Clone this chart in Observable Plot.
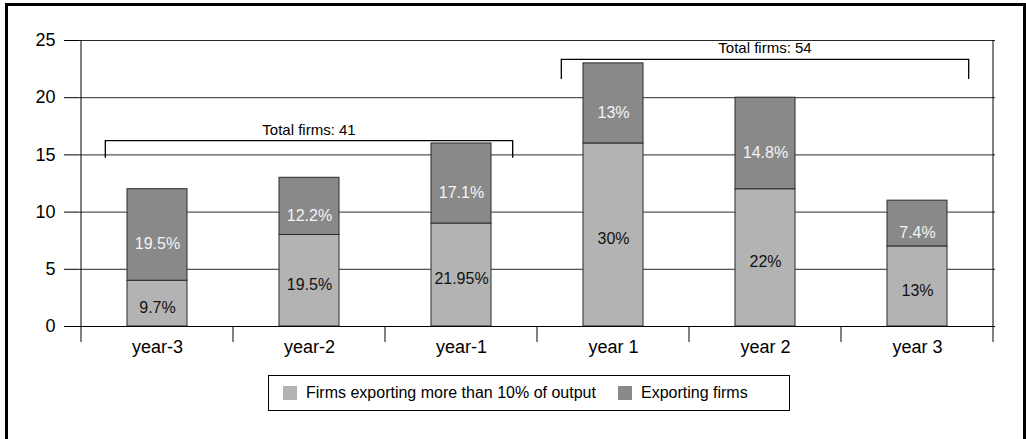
<!DOCTYPE html>
<html><head><meta charset="utf-8">
<script src="https://cdn.jsdelivr.net/npm/d3@7"></script>
<script src="https://cdn.jsdelivr.net/npm/@observablehq/plot@0.6"></script>
<style>
body{margin:0;background:#fff;font-family:"Liberation Sans",Arial,sans-serif}
#wrap{position:relative;width:1026px;height:439px;overflow:hidden;background:#fff}
#frame{position:absolute;left:5px;top:3px;width:1015px;height:470px;border:3px solid #000;pointer-events:none}
#chart{position:absolute;left:0;top:0}
#legend{position:absolute;left:268px;top:375px;width:520px;height:34px;border:1px solid #000;background:#fff;font-size:16px;color:#000}
#legend .it{position:absolute;top:0;height:34px;display:flex;align-items:center}
#legend .sw{width:14px;height:14px;margin-right:9px}
</style></head>
<body>
<div id="wrap"><div id="chart"></div><div id="frame"></div><div id="legend"></div></div>
<script>
const categories = ["year-3","year-2","year-1","year 1","year 2","year 3"];
const seriesNames = ["Firms exporting more than 10% of output","Exporting firms"];
const highValues = [4, 8, 9, 16, 12, 7];
const exportValues = [8, 5, 7, 7, 8, 4];
const highLabels = ["9.7%","19.5%","21.95%","30%","22%","13%"];
const exportLabels = ["19.5%","12.2%","17.1%","13%","14.8%","7.4%"];
const yTicks = [0, 5, 10, 15, 20, 25];
const brackets = [
  {from: "year-3", to: "year-1", label: "Total firms: 41", top: 16.2, foot: 14.7},
  {from: "year 1", to: "year 3", label: "Total firms: 54", top: 23.3, foot: 21.6}
];
const colors = ["#b3b3b3", "#898989"];

const rows = [];
categories.forEach((c, i) => {
  rows.push({cat: c, series: seriesNames[0], value: highValues[i], label: highLabels[i]});
  rows.push({cat: c, series: seriesNames[1], value: exportValues[i], label: exportLabels[i]});
});

function extras(index, scales) {
  const x = scales.x, y = scales.y, bw = x.bandwidth();
  const g = d3.create("svg:g").attr("fill", "none");
  const y0 = y(0), yTop = y(yTicks[yTicks.length - 1]);
  const bounds = categories.map(c => x(c)).concat([x(categories[categories.length - 1]) + bw]);
  g.selectAll("line.b").data(bounds).join("line")
    .attr("x1", d => d).attr("x2", d => d)
    .attr("y1", (d, i) => (i === 0 || i === bounds.length - 1) ? yTop : y0)
    .attr("y2", y0 + 16).attr("stroke", "#000");
  const off = bw * 0.34;
  for (const b of brackets) {
    const xa = x(b.from) + bw / 2 - off, xb = x(b.to) + bw / 2 + off;
    g.append("path")
      .attr("d", `M${xa},${y(b.foot)}V${y(b.top)}H${xb}V${y(b.foot)}`)
      .attr("stroke", "#000").attr("stroke-width", 1.3);
    g.append("text").attr("x", (xa + xb) / 2).attr("y", y(b.top) - 6)
      .attr("text-anchor", "middle").attr("fill", "#000").attr("font-size", 15)
      .text(b.label);
  }
  return g.node();
}

const plot = Plot.plot({
  width: 1026, height: 439,
  marginLeft: 79, marginRight: 31, marginTop: 40, marginBottom: 113,
  style: {fontFamily: "'Liberation Sans', Arial, sans-serif", fontSize: "15px", color: "#000", background: "transparent"},
  x: {domain: categories, padding: 0, label: null},
  y: {domain: [0, 25], label: null},
  color: {domain: seriesNames, range: colors},
  marks: [
    Plot.ruleY(yTicks.slice(1), {stroke: "#2a2a2a", strokeWidth: 1}),
    Plot.barY(rows, {x: "cat", y: "value", fill: "series", stroke: "#2a2a2a", strokeWidth: 1, insetLeft: 46, insetRight: 46}),
    Plot.text(rows, Plot.filter(d => d.series === seriesNames[0], Plot.stackY({x: "cat", y: "value", text: "label", fill: "#111", dy: 4, fontSize: 16}))),
    Plot.text(rows, Plot.filter(d => d.series === seriesNames[1], Plot.stackY({x: "cat", y: "value", text: "label", fill: "#f4f4f4", dy: 9, fontSize: 16}))),
    Plot.ruleY([0], {stroke: "#000", strokeWidth: 1}),
    Plot.axisY({ticks: yTicks, tickSize: 15, tickPadding: 9, fontSize: 18}),
    Plot.axisX({tickSize: 0, tickPadding: 14, fontSize: 18}),
    extras
  ]
});
document.getElementById("chart").appendChild(plot);

const legend = d3.select("#legend");
const lefts = [14, 349];
seriesNames.forEach((s, i) => {
  const it = legend.append("div").attr("class", "it").style("left", lefts[i] + "px");
  it.append("div").attr("class", "sw").style("background", colors[i]);
  it.append("span").text(s);
});
</script>
</body></html>
